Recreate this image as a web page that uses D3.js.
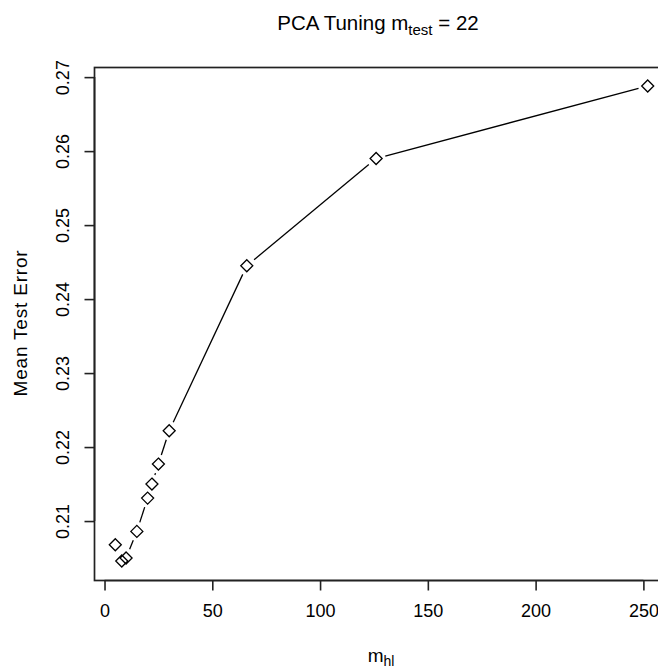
<!DOCTYPE html>
<html><head><meta charset="utf-8">
<script src="https://cdn.jsdelivr.net/npm/d3@7"></script>
<style>body{margin:0;background:#fff}svg{display:block}text{font-family:"Liberation Sans",Arial,sans-serif;fill:#000}</style>
</head><body>
<script>
const mhl = [5, 8, 10, 15, 20, 22, 25, 30, 66, 126, 252];
const meanTestError = [0.2068, 0.2046, 0.2050, 0.2086, 0.2131, 0.2150, 0.2177, 0.2222, 0.2445, 0.2590, 0.2688];
const xTicks = [0, 50, 100, 150, 200, 250];
const yTicks = [0.21, 0.22, 0.23, 0.24, 0.25, 0.26, 0.27];

const W = 658, H = 668;
const box = {left: 94, top: 67, right: 669, bottom: 580};
const FONT = '"Liberation Sans",Arial,sans-serif';
const AX = "#222";
const svg = d3.select("body").append("svg").attr("width", W).attr("height", H);

function ext(a) { const lo = d3.min(a), hi = d3.max(a), r = hi - lo; return [lo - 0.04*r, hi + 0.04*r]; }
const x = d3.scaleLinear().domain(ext(mhl)).range([box.left, box.right]);
const y = d3.scaleLinear().domain(ext(meanTestError)).range([box.bottom, box.top]);

// box
svg.append("rect").attr("x", box.left + 0.5).attr("y", box.top + 0.5)
  .attr("width", box.right - box.left).attr("height", box.bottom - box.top)
  .attr("fill", "none").attr("stroke", AX).attr("stroke-width", 1.7);

// axes
const xAxis = d3.axisBottom(x).tickValues(xTicks).tickSize(10).tickPadding(14).tickFormat(d3.format("d"));
const gx = svg.append("g").attr("transform", `translate(0,${box.bottom + 0.5})`).call(xAxis);
gx.select(".domain").attr("d", `M${x(0)},0H${x(250)}`).attr("stroke", AX).attr("stroke-width", 1.7);
gx.selectAll(".tick line").attr("stroke", AX).attr("stroke-width", 1.6);
gx.selectAll("text").attr("font-size", 18).attr("font-family", FONT);

const yAxis = d3.axisLeft(y).tickValues(yTicks).tickSize(10).tickFormat(d3.format(".2f"));
const gy = svg.append("g").attr("transform", `translate(${box.left + 0.5},0)`).call(yAxis);
gy.select(".domain").attr("d", `M0,${y(0.21)}V${y(0.27)}`).attr("stroke", AX).attr("stroke-width", 1.7);
gy.selectAll(".tick line").attr("stroke", AX).attr("stroke-width", 1.6);
gy.selectAll("text").attr("font-size", 18).attr("font-family", FONT)
  .attr("x", null).attr("text-anchor", "middle")
  .attr("transform", "translate(-32,0) rotate(-90)").attr("dy", "0.36em");

// line segments with gaps (type = "b")
const pts = mhl.map((v, i) => [x(v), y(meanTestError[i])]);
const gap = 9.5;
const segs = [];
for (let i = 0; i < pts.length - 1; i++) {
  const [x1, y1] = pts[i], [x2, y2] = pts[i+1];
  const dx = x2 - x1, dy = y2 - y1, d = Math.hypot(dx, dy);
  if (d > 2*gap) segs.push([x1 + dx*gap/d, y1 + dy*gap/d, x2 - dx*gap/d, y2 - dy*gap/d]);
}
svg.append("g").selectAll("line").data(segs).join("line")
  .attr("x1", d => d[0]).attr("y1", d => d[1]).attr("x2", d => d[2]).attr("y2", d => d[3])
  .attr("stroke", "#000").attr("stroke-width", 1.3);

// diamonds (pch = 5)
const s = 6;
svg.append("g").selectAll("path").data(mhl).join("path")
  .attr("d", (v, i) => { const cx = x(v), cy = y(meanTestError[i]); return `M${cx},${cy-s}L${cx+s},${cy}L${cx},${cy+s}L${cx-s},${cy}Z`; })
  .attr("fill", "none").attr("stroke", "#000").attr("stroke-width", 1.3);

// title
const t = svg.append("text").attr("x", 378).attr("y", 30).attr("text-anchor", "middle").attr("font-size", 20.5);
t.append("tspan").text("PCA Tuning m");
t.append("tspan").attr("font-size", 15).attr("dy", 5).text("test");
t.append("tspan").attr("dy", -5).text(" = 22");

// x label
const xl = svg.append("text").attr("x", 381).attr("y", 662).attr("text-anchor", "middle").attr("font-size", 19);
xl.append("tspan").text("m");
xl.append("tspan").attr("font-size", 14).attr("dy", 4).text("hl");

// y label
svg.append("text").attr("transform", "translate(27,323) rotate(-90)").attr("text-anchor", "middle")
  .attr("font-size", 19).attr("letter-spacing", 0.8).text("Mean Test Error");
</script>
</body></html>
